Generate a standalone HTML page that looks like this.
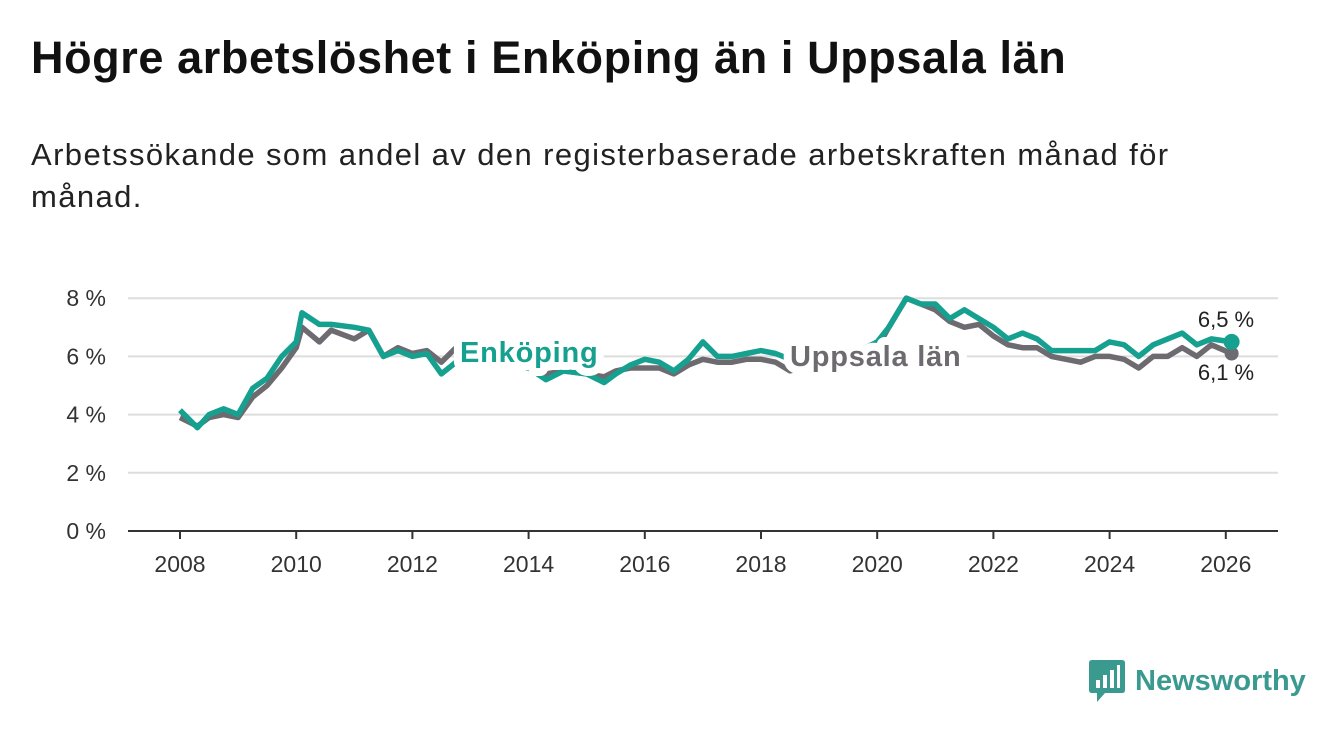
<!DOCTYPE html>
<html><head><meta charset="utf-8"><style>
body{margin:0;width:1340px;height:734px;background:#fff;font-family:"Liberation Sans",sans-serif;overflow:hidden;position:relative}
h1{position:absolute;left:31px;top:32px;margin:0;font-size:45px;font-weight:bold;color:#111;letter-spacing:0.6px}
p{position:absolute;left:31px;top:134px;margin:0;font-size:31px;line-height:42px;color:#222;width:1190px;letter-spacing:1.4px}
svg{position:absolute;left:0;top:0}
</style></head><body>
<h1>Högre arbetslöshet i Enköping än i Uppsala län</h1>
<p>Arbetssökande som andel av den registerbaserade arbetskraften månad för månad.</p>
<svg id="c" width="1340" height="734"></svg>
<script>
const years=[2008,2010,2012,2014,2016,2018,2020,2022,2024,2026];
const yTicks=[0,2,4,6,8];
const times=[2008,2008.3,2008.5,2008.75,2009,2009.25,2009.5,2009.75,2010,2010.1,2010.4,2010.6,2011,2011.25,2011.5,2011.75,2012,2012.25,2012.5,2012.75,2013,2013.5,2014,2014.3,2014.6,2015,2015.3,2015.5,2015.75,2016,2016.25,2016.5,2016.75,2017,2017.25,2017.5,2017.75,2018,2018.25,2018.5,2019,2019.5,2020,2020.2,2020.5,2020.75,2021,2021.25,2021.5,2021.75,2022,2022.25,2022.5,2022.75,2023,2023.25,2023.5,2023.75,2024,2024.25,2024.5,2024.75,2025,2025.25,2025.5,2025.75,2026.1];
const enkoping=[4.15,3.55,4.0,4.2,4.0,4.9,5.25,6.0,6.5,7.5,7.1,7.1,7.0,6.9,6.0,6.2,6.0,6.1,5.4,5.8,6.1,5.8,5.6,5.2,5.5,5.4,5.1,5.4,5.7,5.9,5.8,5.5,5.9,6.5,6.0,6.0,6.1,6.2,6.1,5.9,6.0,6.0,6.5,7.0,8.0,7.8,7.8,7.3,7.6,7.3,7.0,6.6,6.8,6.6,6.2,6.2,6.2,6.2,6.5,6.4,6.0,6.4,6.6,6.8,6.4,6.6,6.5];
const uppsala=[3.9,3.6,3.9,4.0,3.9,4.6,5.0,5.6,6.3,7.0,6.5,6.9,6.6,6.9,6.0,6.3,6.1,6.2,5.8,6.3,6.3,5.9,5.6,5.4,5.5,5.4,5.3,5.5,5.6,5.6,5.6,5.4,5.7,5.9,5.8,5.8,5.9,5.9,5.8,5.5,5.8,5.9,6.3,7.0,8.0,7.8,7.6,7.2,7.0,7.1,6.7,6.4,6.3,6.3,6.0,5.9,5.8,6.0,6.0,5.9,5.6,6.0,6.0,6.3,6.0,6.4,6.1];
const X=t=>180+(t-2008)*58.1, Y=v=>531-v*29.1;
const s=document.getElementById('c'),NS='http://www.w3.org/2000/svg';
function mk(tag,a,txt){const e=document.createElementNS(NS,tag);for(const k in a)e.setAttribute(k,a[k]);if(txt!==undefined)e.textContent=txt;s.appendChild(e);return e;}
yTicks.forEach(v=>{
 const g=mk('line',{x1:128,x2:1278,y1:Y(v),y2:Y(v),stroke:v?'#ddd':'#333','stroke-width':2});
 
 
 const t=mk('text',{x:106,y:Y(v)+8,'text-anchor':'end','font-size':23,fill:'#333'},v+' %');
 
 
});
years.forEach(y=>{
 const l=mk('line',{x1:X(y),x2:X(y),y1:531,y2:539,stroke:'#333','stroke-width':2});
 
 
 const t=mk('text',{x:X(y),y:572,'text-anchor':'middle','font-size':23,fill:'#333'},y);
 
 
});
function line(vals,col,name){
 const d=vals.map((v,i)=>(i?'L':'M')+X(times[i]).toFixed(1)+','+Y(v).toFixed(1)).join('');
 const p=mk('path',{d:d,fill:'none',stroke:col,'stroke-width':5.5,'stroke-linejoin':'round'});
 
 
}
line(uppsala,'#6d6a70','uppsala-line');
line(enkoping,'#16a090','enkoping-line');
const n=times.length-1;
const dot1=mk('circle',{cx:X(times[n]),cy:Y(uppsala[n]),r:7,fill:'#6d6a70'});


const dot2=mk('circle',{cx:X(times[n]),cy:Y(enkoping[n]),r:8,fill:'#16a090'});


const l1=mk('text',{x:1226,y:327,'text-anchor':'middle','font-size':22,fill:'#222',stroke:'#fff','stroke-width':5,'paint-order':'stroke'},enkoping[n].toString().replace('.',',')+' %');


const l2=mk('text',{x:1226,y:380,'text-anchor':'middle','font-size':22,fill:'#222',stroke:'#fff','stroke-width':5,'paint-order':'stroke'},uppsala[n].toString().replace('.',',')+' %');


const a=mk('text',{x:460,y:362,'font-size':29,'font-weight':'bold',fill:'#16a090',stroke:'#fff','stroke-width':16,'paint-order':'stroke','stroke-linejoin':'round','letter-spacing':0.8},'Enköping');


const b=mk('text',{x:790,y:366,'font-size':29,'font-weight':'bold',fill:'#6d6a70',stroke:'#fff','stroke-width':16,'paint-order':'stroke','stroke-linejoin':'round','letter-spacing':0.8},'Uppsala län');


</script>
<div style="position:absolute;left:1089px;top:660px;display:flex;align-items:center">
<svg width="36" height="42" style="position:static"><path d="M0 3 Q0 0 3 0 H33 Q36 0 36 3 V30 Q36 33 33 33 H16 L8 42 V33 H3 Q0 33 0 30Z" fill="#3a9a90"/><rect x="7" y="20" width="4" height="8" fill="#fff"/><rect x="14" y="15" width="4" height="13" fill="#fff"/><rect x="21" y="10" width="4" height="18" fill="#fff"/><rect x="28" y="5" width="3" height="23" fill="#fff"/></svg>
<span style="font-size:29px;color:#3a9a90;margin-left:10px;font-weight:bold">Newsworthy</span></div>
</body></html>
